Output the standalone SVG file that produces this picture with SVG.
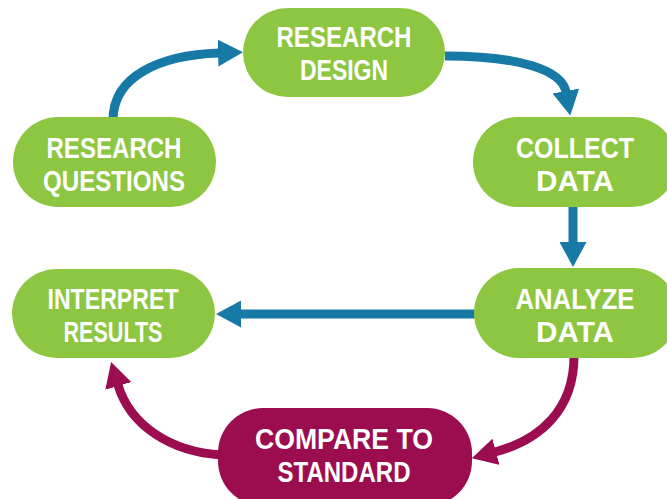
<svg xmlns="http://www.w3.org/2000/svg" width="667" height="499" viewBox="0 0 667 499">
<style>
.g{fill:#8DC641}
.m{fill:#9C0D4F}
.t{fill:#fff;font-family:"Liberation Sans",Arial,sans-serif;font-weight:bold;font-size:29px;text-anchor:middle}
.ab{fill:none;stroke:#1779A5;stroke-width:9}
.am{fill:none;stroke:#9C0D4F;stroke-width:9}
</style>
<defs>
<marker id="hb" viewBox="0 0 25 27" refX="1" refY="13.5" markerWidth="25" markerHeight="27" markerUnits="userSpaceOnUse" orient="auto"><path d="M0,0 L25,13.5 L0,27 Z" fill="#1779A5"/></marker>
<marker id="hm" viewBox="0 0 25 27" refX="1" refY="13.5" markerWidth="25" markerHeight="27" markerUnits="userSpaceOnUse" orient="auto"><path d="M0,0 L25,13.5 L0,27 Z" fill="#9C0D4F"/></marker>
</defs>
<rect width="667" height="499" fill="#fff"/>
<g id="connectors">
<path class="ab" d="M113,120 C113,76 160,55 219,53" marker-end="url(#hb)"/>
<path class="ab" d="M445,56 C520,56 562,70 566,92" marker-end="url(#hb)"/>
<path class="ab" d="M573,206 L573,243" marker-end="url(#hb)"/>
<path class="ab" d="M476,314 L240,314" marker-end="url(#hb)"/>
<path class="am" d="M574,356 C574,410 540,440 495,452" marker-end="url(#hm)"/>
<path class="am" d="M222,455 C170,452 130,425 118,385" marker-end="url(#hm)"/>
</g>
<g id="research-design">
<rect class="g" x="243" y="8" width="202" height="89" rx="44.5"/>
<text class="t" x="344" y="47" textLength="135" lengthAdjust="spacingAndGlyphs">RESEARCH</text>
<text class="t" x="344" y="80" textLength="88" lengthAdjust="spacingAndGlyphs">DESIGN</text>
</g>
<g id="research-questions">
<rect class="g" x="13" y="117" width="203" height="90" rx="45"/>
<text class="t" x="114" y="158" textLength="135" lengthAdjust="spacingAndGlyphs">RESEARCH</text>
<text class="t" x="114" y="191" textLength="142" lengthAdjust="spacingAndGlyphs">QUESTIONS</text>
</g>
<g id="collect-data">
<rect class="g" x="473" y="117" width="204" height="90" rx="45"/>
<text class="t" x="575" y="158" textLength="118" lengthAdjust="spacingAndGlyphs">COLLECT</text>
<text class="t" x="575" y="191" textLength="78" lengthAdjust="spacingAndGlyphs">DATA</text>
</g>
<g id="analyze-data">
<rect class="g" x="474" y="268" width="204" height="90" rx="45"/>
<text class="t" x="575" y="309" textLength="119" lengthAdjust="spacingAndGlyphs">ANALYZE</text>
<text class="t" x="575" y="342" textLength="78" lengthAdjust="spacingAndGlyphs">DATA</text>
</g>
<g id="interpret-results">
<rect class="g" x="12" y="269" width="203" height="89" rx="44.5"/>
<text class="t" x="113" y="309" textLength="131" lengthAdjust="spacingAndGlyphs">INTERPRET</text>
<text class="t" x="113" y="342" textLength="99" lengthAdjust="spacingAndGlyphs">RESULTS</text>
</g>
<g id="compare-to-standard">
<rect class="m" x="218" y="408" width="254" height="98" rx="45"/>
<text class="t" x="344" y="449" textLength="178" lengthAdjust="spacingAndGlyphs">COMPARE TO</text>
<text class="t" x="344" y="482" textLength="133" lengthAdjust="spacingAndGlyphs">STANDARD</text>
</g>
</svg>
